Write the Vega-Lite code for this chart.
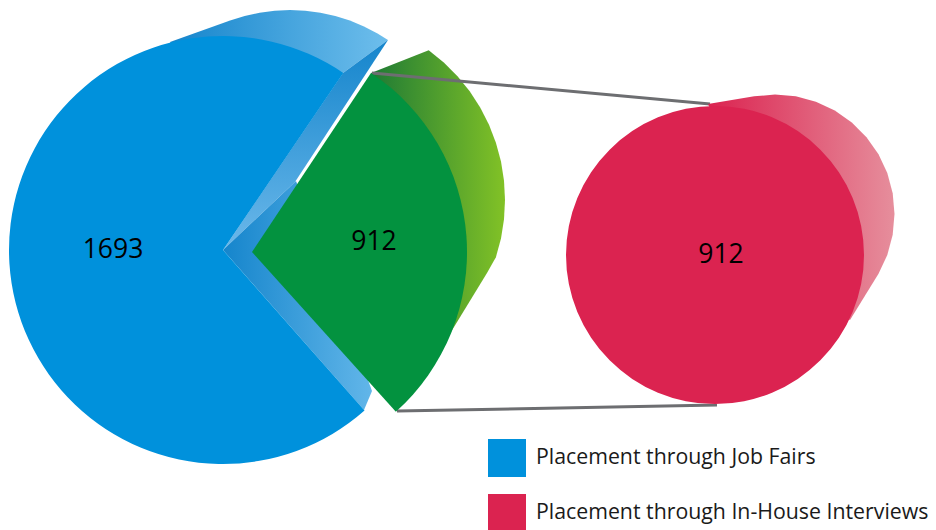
{
"$schema":"https://vega.github.io/schema/vega-lite/v6.json",
"width":936,"height":530,"padding":0,"autosize":{"type":"none"},
"background":"white",
"config":{"view":{"stroke":null}},
"encoding":{
"x":{"type":"quantitative","scale":{"domain":[0,936],"range":[0,936],"nice":false,"zero":false},"axis":null},
"y":{"type":"quantitative","scale":{"domain":[0,530],"range":[0,530],"nice":false,"zero":false},"axis":null}
},
"layer":[
{"data":{"values":[{"x":388,"y":40,"i":0},{"x":343,"y":73,"i":1},{"x":200,"y":100,"i":2},{"x":170,"y":42,"i":3},{"x":230.1,"y":20.6,"i":4},{"x":244.7,"y":16,"i":5},{"x":259.6,"y":12.7,"i":6},{"x":274.7,"y":10.7,"i":7},{"x":290,"y":10,"i":8},{"x":305.3,"y":10.7,"i":9},{"x":320.4,"y":12.7,"i":10},{"x":335.3,"y":16,"i":11},{"x":349.9,"y":20.6,"i":12},{"x":364,"y":26.4,"i":13},{"x":377.5,"y":33.5,"i":14}]},
"mark":{"type":"line","stroke":null,"fill":{"gradient":"linear","x1":0,"y1":0,"x2":1,"y2":0,"stops":[{"offset":0,"color":"#1585cc"},{"offset":1,"color":"#6ebeec"}]}},
"encoding":{"x":{"field":"x"},"y":{"field":"y"},"order":{"field":"i"}}},
{"data":{"values":[{"x":388,"y":40,"i":0},{"x":343,"y":73,"i":1},{"x":223,"y":250,"i":2},{"x":295,"y":182,"i":3}]},
"mark":{"type":"line","stroke":null,"fill":{"gradient":"linear","x1":0,"y1":0,"x2":0,"y2":1,"stops":[{"offset":0,"color":"#1585cc"},{"offset":1,"color":"#6bb8ea"}]}},
"encoding":{"x":{"field":"x"},"y":{"field":"y"},"order":{"field":"i"}}},
{"data":{"values":[{"x":223,"y":250,"i":0},{"x":296,"y":181,"i":1},{"x":372,"y":391,"i":2},{"x":364,"y":410,"i":3}]},
"mark":{"type":"line","stroke":null,"fill":{"gradient":"linear","x1":0,"y1":0,"x2":1,"y2":0,"stops":[{"offset":0,"color":"#1585cc"},{"offset":1,"color":"#62b6e9"}]}},
"encoding":{"x":{"field":"x"},"y":{"field":"y"},"order":{"field":"i"}}},
{"data":{"values":[{"x":371,"y":73,"i":0},{"x":428.7,"y":50.3,"i":1},{"x":443.8,"y":62.5,"i":2},{"x":457.5,"y":76.2,"i":3},{"x":469.7,"y":91.3,"i":4},{"x":480.2,"y":107.5,"i":5},{"x":489,"y":124.8,"i":6},{"x":495.9,"y":142.8,"i":7},{"x":501,"y":161.5,"i":8},{"x":504,"y":180.7,"i":9},{"x":505,"y":200,"i":10},{"x":504,"y":219.3,"i":11},{"x":501,"y":238.5,"i":12},{"x":495.9,"y":257.2,"i":13},{"x":487,"y":273,"i":14},{"x":443,"y":345,"i":15},{"x":400,"y":300,"i":16}]},
"mark":{"type":"line","stroke":null,"fill":{"gradient":"linear","x1":0,"y1":0,"x2":1,"y2":0,"stops":[{"offset":0,"color":"#1e7a35"},{"offset":1,"color":"#82c226"}]}},
"encoding":{"x":{"field":"x"},"y":{"field":"y"},"order":{"field":"i"}}},
{"data":{"values":[{"x":372,"y":73,"link":"top"},{"x":710,"y":104,"link":"top"},{"x":397,"y":411,"link":"bottom"},{"x":717,"y":405,"link":"bottom"}]},
"mark":{"type":"line","stroke":"#6d6e71","strokeWidth":3},
"encoding":{"x":{"field":"x"},"y":{"field":"y"},"detail":{"field":"link"}}},
{"data":{"values":[{"x":708,"y":104,"i":0},{"x":754.2,"y":96.3,"i":1},{"x":775,"y":94.5,"i":2},{"x":795.8,"y":96.3,"i":3},{"x":815.9,"y":101.7,"i":4},{"x":834.8,"y":110.5,"i":5},{"x":851.8,"y":122.5,"i":6},{"x":866.5,"y":137.2,"i":7},{"x":878.5,"y":154.2,"i":8},{"x":887.3,"y":173.1,"i":9},{"x":892.7,"y":193.2,"i":10},{"x":894.5,"y":214,"i":11},{"x":892.7,"y":234.8,"i":12},{"x":887.3,"y":254.9,"i":13},{"x":878.5,"y":273.8,"i":14},{"x":850,"y":320,"i":15},{"x":800,"y":300,"i":16}]},
"mark":{"type":"line","stroke":null,"fill":{"gradient":"linear","x1":0,"y1":0,"x2":1,"y2":0,"stops":[{"offset":0,"color":"#db2350"},{"offset":1,"color":"#e68e9c"}]}},
"encoding":{"x":{"field":"x"},"y":{"field":"y"},"order":{"field":"i"}}},
{"data":{"values":[
{"series":"Placement through Job Fairs","value":1693,"x":223,"y":250,"start":138.6,"end":394.2,"r":214},
{"series":"Placement through In-House Interviews","value":912,"x":715,"y":255,"start":0,"end":360,"r":149}
]},
"mark":{"type":"arc"},
"encoding":{
"x":{"field":"x"},"y":{"field":"y"},
"theta":{"field":"start","type":"quantitative","scale":{"domain":[0,360],"range":[0,6.283185]}},
"theta2":{"field":"end"},
"radius":{"field":"r","type":"quantitative","scale":{"type":"linear","domain":[0,300],"range":[0,300],"zero":true,"nice":false}},
"color":{"field":"series","type":"nominal","scale":{"domain":["Placement through Job Fairs","Placement through In-House Interviews"],"range":["#0091dc","#db2350"]},
"legend":{"title":null,"orient":"none","legendX":488,"legendY":439,"symbolType":"square","symbolSize":1444,"symbolStrokeWidth":0,"symbolOpacity":1,"rowPadding":17,"labelFont":"Open Sans","labelFontSize":21.3,"labelColor":"#1a1a1a","labelOffset":10,"labelLimit":420,"padding":0,
"encoding":{"labels":{"enter":{"dy":{"value":2}},"update":{"dy":{"value":2}}}}}}
}},
{"data":{"values":[{"series":"Placement through In-House Interviews","value":912,"x":252,"y":252,"start":33.6,"end":138,"r":215}]},
"mark":{"type":"arc","fill":"#03923f"},
"encoding":{
"x":{"field":"x"},"y":{"field":"y"},
"theta":{"field":"start","type":"quantitative","scale":{"domain":[0,360],"range":[0,6.283185]}},
"theta2":{"field":"end"},
"radius":{"field":"r","type":"quantitative","scale":{"type":"linear","domain":[0,300],"range":[0,300],"zero":true,"nice":false}}
}},
{"data":{"values":[{"value":1693,"x":113,"y":250},{"value":912,"x":374,"y":242},{"value":912,"x":721,"y":255}]},
"mark":{"type":"text","font":"Open Sans","fontSize":26.5,"color":"#000000","align":"center","baseline":"middle"},
"encoding":{"x":{"field":"x"},"y":{"field":"y"},"text":{"field":"value","type":"nominal"}}}
]
}
